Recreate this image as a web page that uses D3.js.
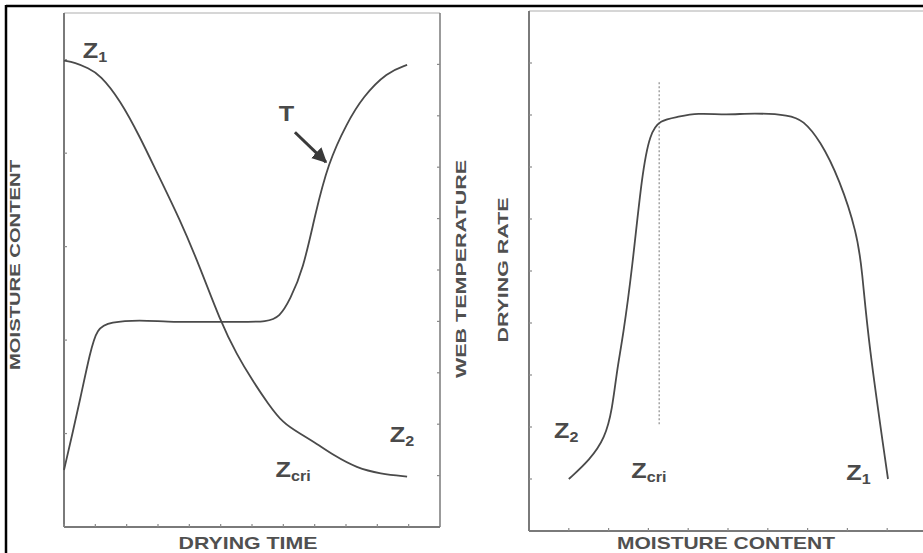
<!DOCTYPE html>
<html lang="en">
<head>
<meta charset="UTF-8">
<title>Drying curves</title>
<style>
  body { margin: 0; background: #fff; }
  svg { display: block; font-family: "Liberation Sans", Arial, sans-serif; }
  .axis-line { stroke: #7a7a7a; stroke-width: 2; fill: none; }
  .frame-line { stroke: #c8c8c8; stroke-width: 1.5; }
  .tick { stroke: #8a8a8a; stroke-width: 1.2; }
  .curve { fill: none; stroke: #4a4a4a; stroke-width: 1.8; }
  .axis-title { fill: #505050; font-weight: bold; }
  .mark { fill: #4a4a4a; font-weight: bold; }
</style>
</head>
<body>
<svg id="chart" width="923" height="553"></svg>
<script src="https://d3js.org/d3.v7.min.js"></script>
<script>
// --- data ---
// left panel: moisture content vs drying time
const moistTime  = [0, 0.35, 0.77, 1.15, 1.79, 2.43, 2.97, 3.70, 4.34, 4.98, 5.52, 6.03, 6.51, 6.99, 7.53, 8.07, 8.59, 9.35, 10.09, 10.95];
const moistValue = [4.99, 4.97, 4.91, 4.84, 4.57, 4.17, 3.79, 3.29, 2.78, 2.21, 1.84, 1.56, 1.32, 1.11, 1.00, 0.89, 0.77, 0.63, 0.57, 0.54];
// left panel: web temperature vs drying time
const tempTime  = [0, 0.26, 0.51, 0.83, 1.05, 1.47, 2.43, 3.29, 4.34, 5.62, 6.48, 6.89, 7.21, 7.63, 8.01, 8.43, 9.03, 9.54, 10.31, 10.95];
const tempValue = [1.11, 1.79, 2.47, 3.39, 3.87, 3.99, 4.03, 3.99, 3.99, 3.99, 3.99, 4.09, 4.42, 5.0, 6.07, 7.08, 7.86, 8.37, 8.85, 8.99];
// right panel: drying rate vs moisture content
const rateMoist = [1.0, 1.53, 1.91, 2.09, 2.21, 2.36, 2.59, 2.84, 3.04, 3.29, 3.72, 4.22, 4.97, 5.63, 6.56, 6.88, 7.31, 7.81, 8.24, 8.37, 8.52, 9.02];
const rateValue = [1.0, 1.37, 1.79, 2.33, 3.10, 3.73, 5.02, 6.88, 7.65, 7.90, 7.96, 8.04, 8.0, 8.04, 8.0, 7.90, 7.52, 6.75, 5.73, 5.02, 3.67, 1.0];
const critMoist = 3.27;          // dotted line
const critRange = [2.04, 8.63];

const leftXTicks  = d3.range(0, 12);
const leftYTicks  = [1, 2, 3, 4, 5];
const leftY2Ticks = d3.range(1, 10);
const rightXTicks = d3.range(1, 10);
const rightYTicks = d3.range(1, 10);

// labels: [text, subscript, x, y] in data units
const leftMarks  = [["Z", "1", 0.6, 5.02, "m"], ["Z", "2", 10.4, 0.91, "m"], ["Z", "cri", 6.75, 0.53, "m"], ["T", "", 6.85, 7.9, "t"]];
const rightMarks = [["Z", "2", 0.63, 1.79], ["Z", "cri", 2.57, 1.02], ["Z", "1", 7.97, 0.98]];

const svg = d3.select("#chart");

// outer black frame (top and left only)
svg.append("line").attr("x1", 6).attr("x2", 923).attr("y1", 6).attr("y2", 6)
  .attr("stroke", "#000").attr("stroke-width", 2.5);
svg.append("line").attr("x1", 6).attr("x2", 6).attr("y1", 5).attr("y2", 553)
  .attr("stroke", "#000").attr("stroke-width", 2.5);

// ---------- left panel ----------
const x1 = d3.scaleLinear().domain([0, 12]).range([64, 440]);
const y1 = d3.scaleLinear().domain([0, 5.5]).range([527, 13]);
const y2 = d3.scaleLinear().domain([0, 10]).range([527, 13]);

const L = svg.append("g");
L.append("line").attr("class", "frame-line")
  .attr("x1", x1(0)).attr("x2", x1(12)).attr("y1", y1(5.5)).attr("y2", y1(5.5));
L.append("line").attr("class", "axis-line")
  .attr("x1", x1(0)).attr("x2", x1(0)).attr("y1", y1(5.5)).attr("y2", y1(0));
L.append("line").attr("class", "axis-line")
  .attr("x1", x1(0)).attr("x2", x1(12)).attr("y1", y1(0)).attr("y2", y1(0));
L.append("line").attr("class", "axis-line").style("stroke-width", 1.5)
  .attr("x1", x1(12)).attr("x2", x1(12)).attr("y1", y1(5.5)).attr("y2", y1(0));

L.selectAll(".xt").data(leftXTicks).enter().append("line").attr("class", "tick")
  .attr("x1", d => x1(d)).attr("x2", d => x1(d)).attr("y1", y1(0)).attr("y2", y1(0) - 3);
L.selectAll(".yt").data(leftYTicks).enter().append("line").attr("class", "tick")
  .attr("x1", x1(0)).attr("x2", x1(0) + 3).attr("y1", d => y1(d)).attr("y2", d => y1(d));
L.selectAll(".y2t").data(leftY2Ticks).enter().append("line").attr("class", "tick")
  .attr("x1", x1(12)).attr("x2", x1(12) - 3).attr("y1", d => y2(d)).attr("y2", d => y2(d));

const moistLine = d3.line().curve(d3.curveBasis)
  .x(i => x1(moistTime[i])).y(i => y1(moistValue[i]));
L.append("path").attr("class", "curve").attr("d", moistLine(d3.range(moistTime.length)));

const tempLine = d3.line().curve(d3.curveBasis)
  .x(i => x1(tempTime[i])).y(i => y2(tempValue[i]));
L.append("path").attr("class", "curve").attr("d", tempLine(d3.range(tempTime.length)));

// arrow pointing at T curve
svg.append("defs").append("marker").attr("id", "head")
  .attr("viewBox", "0 0 10 10").attr("refX", 9).attr("refY", 5)
  .attr("markerWidth", 5).attr("markerHeight", 5).attr("orient", "auto")
  .append("path").attr("d", "M0,0L10,5L0,10z").attr("fill", "#3a3a3a");
L.append("line").attr("stroke", "#3a3a3a").attr("stroke-width", 3)
  .attr("x1", x1(7.37)).attr("y1", y2(7.68)).attr("x2", x1(8.36)).attr("y2", y2(7.10))
  .attr("marker-end", "url(#head)");

function drawMark(g, d, xs, ys) {
  const t = g.append("text").attr("class", "mark")
    .attr("transform", `translate(${xs(d[2])},${ys(d[3])}) scale(1.15,1)`)
    .attr("font-size", 22);
  t.append("tspan").text(d[0]);
  if (d[1]) t.append("tspan").attr("font-size", 14).attr("dy", 4).text(d[1]);
}
leftMarks.forEach(d => drawMark(L, d, x1, d[4] === "t" ? y2 : y1));

// ---------- right panel ----------
const xr = d3.scaleLinear().domain([0, 10]).range([529, 927]);
const yr = d3.scaleLinear().domain([0, 10]).range([531, 11]);

const R = svg.append("g");
R.append("line").attr("class", "frame-line")
  .attr("x1", xr(0)).attr("x2", xr(10)).attr("y1", yr(10)).attr("y2", yr(10));
R.append("line").attr("class", "axis-line")
  .attr("x1", xr(0)).attr("x2", xr(0)).attr("y1", yr(10)).attr("y2", yr(0));
R.append("line").attr("class", "axis-line")
  .attr("x1", xr(0)).attr("x2", xr(10)).attr("y1", yr(0)).attr("y2", yr(0));
R.selectAll(".xt").data(rightXTicks).enter().append("line").attr("class", "tick")
  .attr("x1", d => xr(d)).attr("x2", d => xr(d)).attr("y1", yr(0)).attr("y2", yr(0) - 3);
R.selectAll(".yt").data(rightYTicks).enter().append("line").attr("class", "tick")
  .attr("x1", xr(0)).attr("x2", xr(0) + 3).attr("y1", d => yr(d)).attr("y2", d => yr(d));

R.append("line").attr("stroke", "#777").attr("stroke-width", 1).attr("stroke-dasharray", "2,2")
  .attr("x1", xr(critMoist)).attr("x2", xr(critMoist))
  .attr("y1", yr(critRange[1])).attr("y2", yr(critRange[0]));

const rateLine = d3.line().curve(d3.curveBasis)
  .x(i => xr(rateMoist[i])).y(i => yr(rateValue[i]));
R.append("path").attr("class", "curve").attr("d", rateLine(d3.range(rateMoist.length)));

rightMarks.forEach(d => drawMark(R, d, xr, yr));

// ---------- axis titles ----------
function title(txt, x, y, rot, len, size) {
  svg.append("text").attr("class", "axis-title")
    .attr("transform", `translate(${x},${y}) rotate(${rot})`)
    .attr("text-anchor", "middle").attr("font-size", size)
    .attr("textLength", len).attr("lengthAdjust", "spacingAndGlyphs")
    .text(txt);
}
title("DRYING TIME", 248, 549, 0, 139, 17);
title("MOISTURE CONTENT", 726, 549, 0, 218, 17);
title("MOISTURE CONTENT", 20, 265, -90, 210, 15);
title("WEB TEMPERATURE", 466, 269, -90, 218, 15);
title("DRYING RATE", 508, 270, -90, 145, 15);
</script>
</body>
</html>
